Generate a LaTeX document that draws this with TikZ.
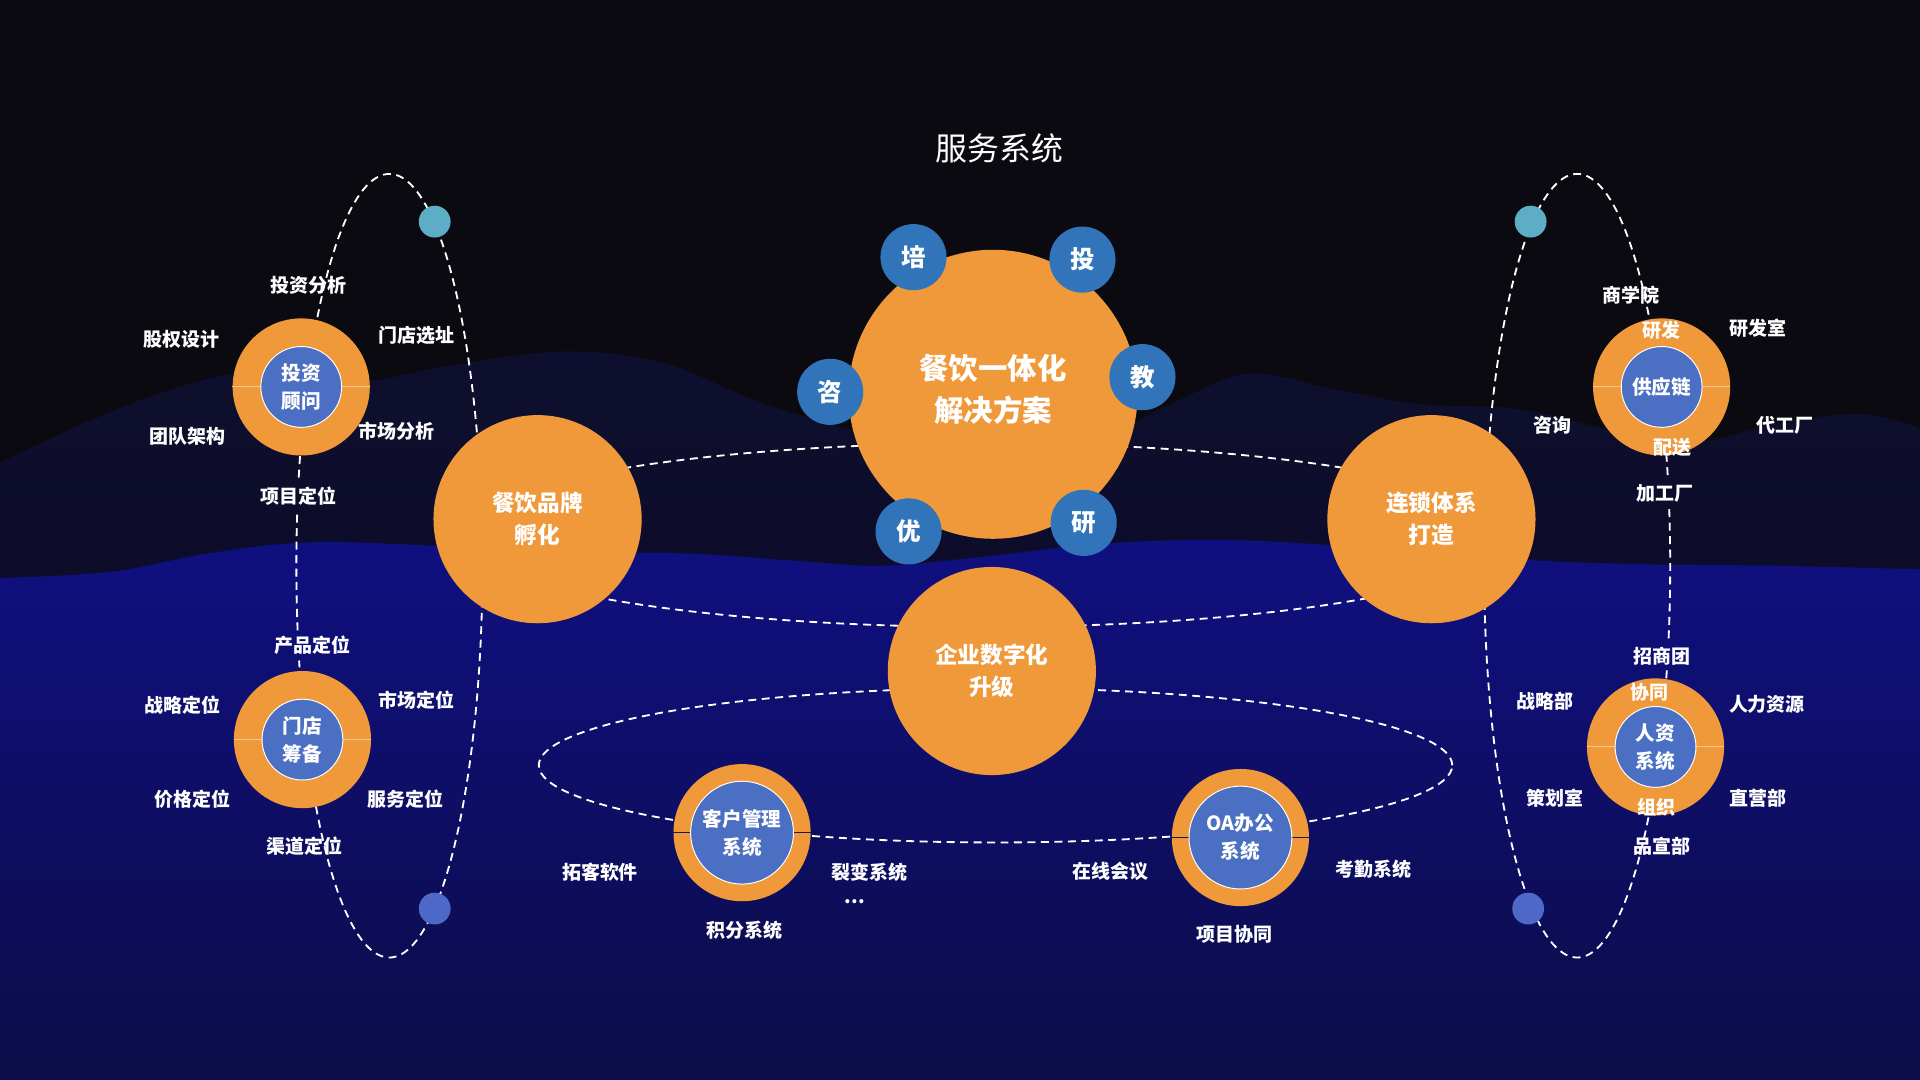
\documentclass[tikz,border=0pt]{standalone}
\usepackage{fontspec}
\setmainfont{Noto Sans CJK SC}
\definecolor{bgtop}{HTML}{0B0A10}
\definecolor{navyA}{HTML}{0E0E2E}
\definecolor{navyA2}{HTML}{0B0B22}
\definecolor{blueB}{HTML}{0F1080}
\definecolor{navyMid}{HTML}{0B0B3A}
\definecolor{navyBot}{HTML}{0C0C48}
\definecolor{orangeC}{HTML}{F0993A}
\definecolor{blueS}{HTML}{3174B9}
\definecolor{blueI}{HTML}{4B6FC2}
\definecolor{tealD}{HTML}{5EADC7}
\definecolor{blueD}{HTML}{4E68C8}
\definecolor{ringLight}{HTML}{F7C68E}
\definecolor{ringDark}{HTML}{1A1A3A}
\tikzset{
  bigc/.style={circle, fill=orangeC, inner sep=0pt, text=white, align=center},
  smallc/.style={circle, fill=blueS, minimum size=54pt, inner sep=0pt, text=white, font=\bfseries\fontsize{20}{22}\selectfont},
  ringc/.style={circle, fill=orangeC, minimum size=112pt, inner sep=0pt},
  innerc/.style={circle, fill=blueI, draw=white, line width=0.8pt, inner sep=0pt, text=white, align=center, font=\bfseries\fontsize{16}{23}\selectfont},
  lbl/.style={text=white, inner sep=1pt, font=\bfseries\fontsize{15.5}{18}\selectfont},
  dashl/.style={draw=white, line width=1.5pt, dash pattern=on 6.5pt off 4.5pt},
  dot/.style={circle, minimum size=26pt, inner sep=0pt},
}
\begin{document}
\begin{tikzpicture}[x=1pt,y=-1pt]
\useasboundingbox (0,0) rectangle (1568,882);
% background
\fill[bgtop] (0,0) rectangle (1568,882);
\shade[top color=navyA, bottom color=navyA2] plot[smooth, tension=0.6] coordinates {(0,378) (70,345) (140,318) (210,303) (290,312) (370,298) (460,287) (540,296) (620,328) (700,352) (800,372) (900,355) (960,328) (1020,305) (1090,318) (1160,330) (1240,334) (1310,350) (1380,362) (1450,346) (1520,338) (1568,350)} -- (1568,882) -- (0,882) -- cycle;
\shade[top color=blueB, middle color=navyMid, bottom color=navyBot] plot[smooth, tension=0.6] coordinates {(0,472) (90,467) (170,452) (250,443) (340,445) (420,450) (560,452) (650,458) (720,462) (800,455) (900,444) (1000,441) (1100,446) (1180,452) (1260,458) (1350,461) (1450,462) (1568,465)} -- (1568,882) -- (0,882) -- cycle;

% title
\node[text=white, font=\fontsize{26}{30}\selectfont] (title) at (816,121) {服务系统};

% dashed orbits
\draw[dashl] (804,437) ellipse [x radius=430pt, y radius=75pt];
\draw[dashl] (813,625) ellipse [x radius=373pt, y radius=63pt];
\draw[dashl] plot[domain=193:526, samples=160] ({318+76*cos(\x)},{462+320*sin(\x)});
\draw[dashl] plot[domain=170.5:187.5, samples=10] ({318+76*cos(\x)},{462+320*sin(\x)});
\draw[dashl] plot[domain=15.5:347, samples=160] ({1288+76*cos(\x)},{462+320*sin(\x)});
\draw[dashl] plot[domain=-8.3:11, samples=10] ({1288+76*cos(\x)},{462+320*sin(\x)});

% main circles
\node[bigc, minimum size=236pt] (main) at (811,322) {};
\node[text=white, align=center, font=\bfseries\fontsize{24}{35}\selectfont] (maint) at (811,318) {餐饮一体化\\解决方案};
\node[bigc, minimum size=170pt, font=\bfseries\fontsize{18.5}{26}\selectfont] (brand) at (439,424) {餐饮品牌\\孵化};
\node[bigc, minimum size=170pt, font=\bfseries\fontsize{18.5}{26}\selectfont] (chain) at (1169,424) {连锁体系\\打造};
\node[bigc, minimum size=170pt, font=\bfseries\fontsize{18.5}{26}\selectfont] (digi) at (810,548) {企业数字化\\升级};

% small blue circles
\node[smallc] (pei) at (746,210) {培};
\node[smallc] (tou) at (884,212) {投};
\node[smallc] (zi) at (678,320) {咨};
\node[smallc] (jiao) at (933,308) {教};
\node[smallc] (you) at (742,434) {优};
\node[smallc] (yan) at (885,427) {研};

% rings
\node[ringc] (r1) at (246,316) {};
\draw[ringLight, line width=0.8pt] (r1.west) -- (r1.east);
\node[innerc, minimum size=66pt] (r1i) at (r1) {投资\\顾问};
\node[ringc] (r2) at (247,604) {};
\draw[ringLight, line width=0.8pt] (r2.west) -- (r2.east);
\node[innerc, minimum size=66pt] (r2i) at (r2) {门店\\筹备};
\node[ringc] (r3) at (1357,316) {};
\draw[ringLight, line width=0.8pt] (r3.west) -- (r3.east);
\node[innerc, minimum size=66pt] (r3i) at (r3) {供应链};
\node[ringc] (r4) at (1352,610) {};
\draw[ringLight, line width=0.8pt] (r4.west) -- (r4.east);
\node[innerc, minimum size=66pt] (r4i) at (r4) {人资\\系统};
\node[ringc] (r5) at (606,680) {};
\draw[ringDark, line width=0.8pt] (r5.west) -- (r5.east);
\node[innerc, minimum size=84pt] (r5i) at (r5) {客户管理\\系统};
\node[ringc] (r6) at (1013,684) {};
\draw[ringDark, line width=0.8pt] (r6.west) -- (r6.east);
\node[innerc, minimum size=84pt] (r6i) at (r6) {OA办公\\系统};

% dots
\node[dot, fill=tealD] (d1) at (355,181) {};
\node[dot, fill=blueD] (d2) at (355,742) {};
\node[dot, fill=tealD] (d3) at (1250,181) {};
\node[dot, fill=blueD] (d4) at (1248,742) {};

% left labels
\node[lbl] (a1) at (252,233) {投资分析};
\node[lbl] (a2) at (148,277) {股权设计};
\node[lbl] (a3) at (340,274) {门店选址};
\node[lbl] (a4) at (153,356) {团队架构};
\node[lbl] (a5) at (324,352) {市场分析};
\node[lbl] (a6) at (244,405) {项目定位};
\node[lbl] (b1) at (255,527) {产品定位};
\node[lbl] (b2) at (149,576) {战略定位};
\node[lbl] (b3) at (340,572) {市场定位};
\node[lbl] (b4) at (157,653) {价格定位};
\node[lbl] (b5) at (331,653) {服务定位};
\node[lbl] (b6) at (249,691) {渠道定位};
% right labels
\node[lbl] (c1) at (1332,241) {商学院};
\node[lbl] (c2) at (1357,270) {研发};
\node[lbl] (c3) at (1436,268) {研发室};
\node[lbl] (c4) at (1268,347) {咨询};
\node[lbl] (c5) at (1458,347) {代工厂};
\node[lbl] (c6) at (1366,365) {配送};
\node[lbl] (c7) at (1360,403) {加工厂};
\node[lbl] (e1) at (1357,536) {招商团};
\node[lbl] (e2) at (1347,565) {协同};
\node[lbl] (e3) at (1262,573) {战略部};
\node[lbl] (e4) at (1443,575) {人力资源};
\node[lbl] (e5) at (1270,652) {策划室};
\node[lbl] (e6) at (1353,659) {组织};
\node[lbl] (e7) at (1436,652) {直营部};
\node[lbl] (e8) at (1357,691) {品宣部};
% bottom labels
\node[lbl] (f1) at (490,712) {拓客软件};
\node[lbl] (f2) at (710,712) {裂变系统};
\node[lbl] (f3) at (698,736) {...};
\node[lbl] (f4) at (608,760) {积分系统};
\node[lbl] (g1) at (907,712) {在线会议};
\node[lbl] (g2) at (1122,710) {考勤系统};
\node[lbl] (g3) at (1008,763) {项目协同};
\end{tikzpicture}
\end{document}
